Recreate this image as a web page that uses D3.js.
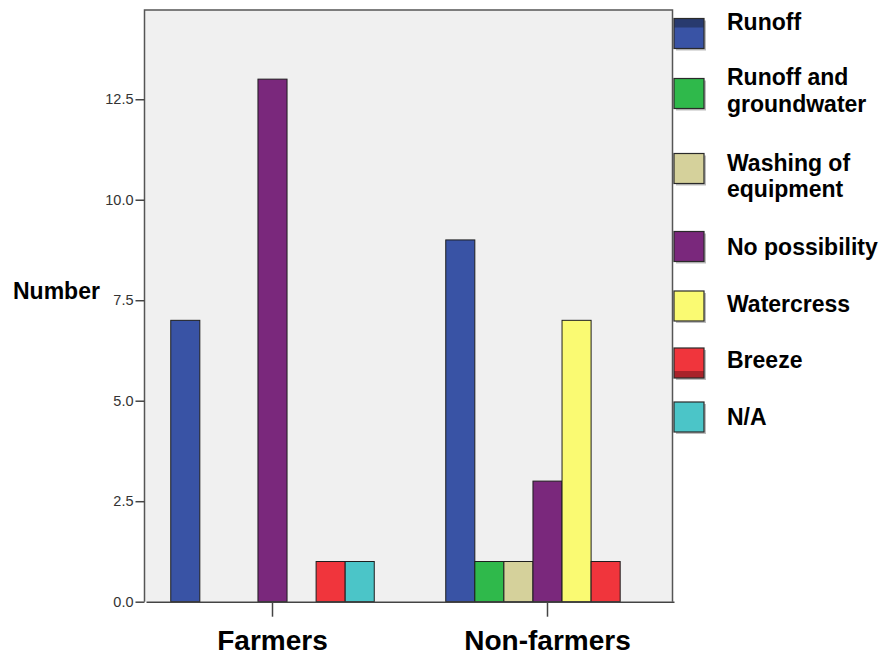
<!DOCTYPE html>
<html>
<head>
<meta charset="utf-8">
<script src="https://cdn.jsdelivr.net/npm/d3@7/dist/d3.min.js"></script>
<style>
  html, body { margin: 0; padding: 0; background: #ffffff; }
  svg { display: block; }
  text { font-family: Arial, "Liberation Sans", sans-serif; }
</style>
</head>
<body>
<svg id="chart" width="884" height="657"></svg>
<script>
// ---------- data ----------
const groups = ["Farmers", "Non-farmers"];
const series = ["Runoff", "Runoff and groundwater", "Washing of equipment", "No possibility", "Watercress", "Breeze", "N/A"];
const farmersValues    = [7, 0, 0, 13, 0, 1, 1];
const nonFarmersValues = [9, 1, 1, 3, 7, 1, 0];
const yTicks = [0, 2.5, 5, 7.5, 10, 12.5];
const legendLines = [["Runoff"], ["Runoff and", "groundwater"], ["Washing of", "equipment"], ["No possibility"], ["Watercress"], ["Breeze"], ["N/A"]];
const yLabel = "Number";

// ---------- styles / layout ----------
const colors = ["#3953a5", "#2fb94b", "#d5d19b", "#7a287c", "#fafa72", "#f0353c", "#4bc5c8"];
const plot = { left: 144.5, right: 672.5, top: 10, bottom: 601.7 };
const legendSwatchTop = [18.5, 78.5, 153.5, 231.5, 291, 348, 402];
const legendBaselines = [[30], [85, 112], [171, 197], [255], [312], [368], [425]];

const svg = d3.select("#chart");

const valuesByGroup = [farmersValues, nonFarmersValues];

const y = d3.scaleLinear().domain([0, 14.72]).range([plot.bottom, plot.top]);
const x0 = d3.scaleBand().domain(groups).range([plot.left + 1.5, plot.right + 1.5]).paddingInner(0.26).paddingOuter(0.09);
const x1 = d3.scaleBand().domain(series).range([0, x0.bandwidth()]).padding(0);

// plot background
svg.append("rect")
  .attr("x", plot.left).attr("y", plot.top)
  .attr("width", plot.right - plot.left).attr("height", plot.bottom - plot.top)
  .attr("fill", "#f0f0f0");

// bars
const gBars = svg.append("g");
groups.forEach((g, gi) => {
  const data = series.map((s, si) => ({ s, v: valuesByGroup[gi][si], c: colors[si] })).filter(d => d.v > 0);
  gBars.selectAll(null).data(data).enter().append("rect")
    .attr("x", d => x0(g) + x1(d.s))
    .attr("y", d => y(d.v))
    .attr("width", x1.bandwidth())
    .attr("height", d => y(0) - y(d.v))
    .attr("fill", d => d.c)
    .attr("stroke", "#1e1e1e")
    .attr("stroke-width", 1);
});

// frame (top, left, right)
svg.append("path")
  .attr("d", `M${plot.left},${plot.bottom} V${plot.top} H${plot.right} V${plot.bottom}`)
  .attr("fill", "none").attr("stroke", "#555").attr("stroke-width", 1.5);

// y axis
const yAxis = d3.axisLeft(y).tickValues(yTicks).tickFormat(d3.format(".1f")).tickSize(9).tickPadding(2);
const gy = svg.append("g").attr("transform", `translate(${plot.left},0)`).call(yAxis);
gy.select(".domain").remove();
gy.selectAll(".tick line").attr("stroke", "#444").attr("stroke-width", 1.5);
gy.selectAll(".tick text").attr("font-size", 14.5).attr("fill", "#333")
  .attr("font-family", "Arial, 'Liberation Sans', sans-serif");

// x axis
const xAxis = d3.axisBottom(x0).tickSize(15).tickSizeOuter(0).tickPadding(0);
const gx = svg.append("g").attr("transform", `translate(0,${plot.bottom})`).call(xAxis);
gx.select(".domain").attr("stroke", "#444").attr("stroke-width", 1.5);
gx.selectAll(".tick line").attr("stroke", "#444").attr("stroke-width", 1.5);
gx.selectAll(".tick text").remove();
gx.selectAll(".tick").append("text")
  .attr("x", 0).attr("y", 650 - plot.bottom)
  .attr("text-anchor", "middle")
  .attr("font-size", 28).attr("font-weight", "bold").attr("fill", "#000")
  .attr("font-family", "Arial, 'Liberation Sans', sans-serif")
  .text(d => d);

// y label
svg.append("text")
  .attr("x", 13).attr("y", 299)
  .attr("font-size", 23).attr("font-weight", "bold").attr("fill", "#000")
  .text(yLabel);

// legend
const gLeg = svg.append("g");
series.forEach((s, i) => {
  const sx = 674;
  const sy = legendSwatchTop[i];
  gLeg.append("rect").attr("x", sx + 2).attr("y", sy + 2)
    .attr("width", 30).attr("height", 30).attr("fill", "#bdbdbd");
  gLeg.append("rect").attr("x", sx).attr("y", sy)
    .attr("width", 30).attr("height", 30).attr("fill", colors[i]);
  if (i === 0) {
    gLeg.append("rect").attr("x", sx).attr("y", sy).attr("width", 30).attr("height", 9).attr("fill", "#283a6e");
  }
  if (i === 5) {
    gLeg.append("rect").attr("x", sx).attr("y", sy + 23).attr("width", 30).attr("height", 7).attr("fill", "#a8232a");
  }
  gLeg.append("rect").attr("x", sx).attr("y", sy)
    .attr("width", 30).attr("height", 30).attr("fill", "none")
    .attr("stroke", "#2a2a2a").attr("stroke-width", 1.2);
  legendLines[i].forEach((line, li) => {
    gLeg.append("text")
      .attr("x", 727).attr("y", legendBaselines[i][li])
      .attr("font-size", 23).attr("font-weight", "bold").attr("fill", "#000")
      .text(line);
  });
});
</script>
</body>
</html>
